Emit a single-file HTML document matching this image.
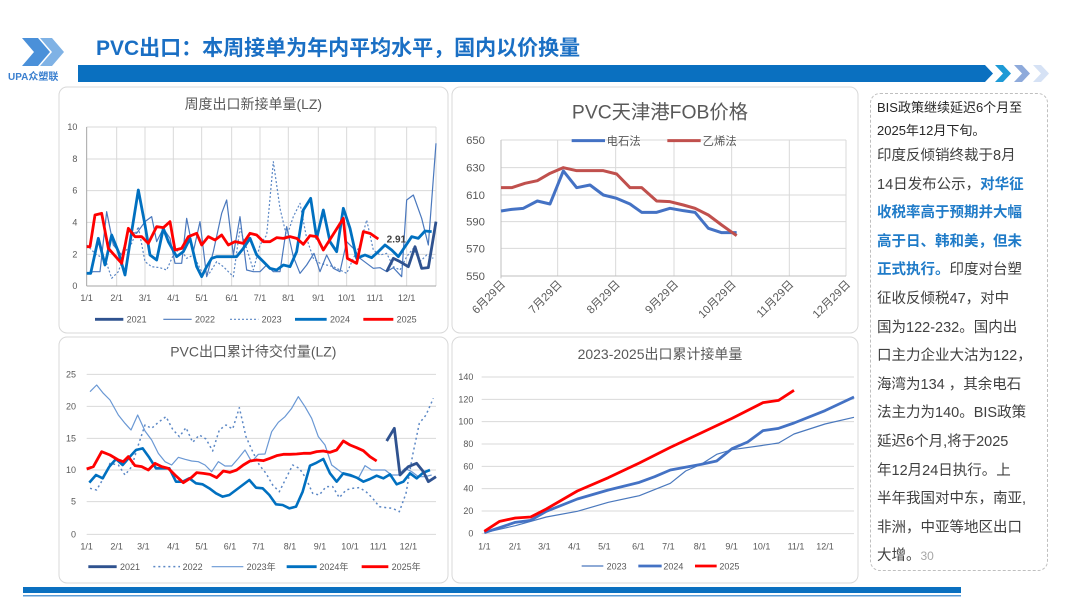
<!DOCTYPE html>
<html><head><meta charset="utf-8">
<style>
html,body{margin:0;padding:0;background:#fff;}
body{width:1080px;height:608px;overflow:hidden;position:relative;font-family:"Liberation Sans","Noto Sans CJK SC",sans-serif;}
.tb{position:absolute;left:870px;top:93px;width:176px;height:476px;border:1px dashed #bfbfbf;border-radius:10px;}
.tx{position:absolute;left:877px;top:96px;width:172px;font-size:14.5px;line-height:28.6px;color:#404040;font-family:"Liberation Sans","Noto Sans CJK SC",sans-serif;}
.tx .s{font-size:13px;line-height:23px;color:#262626;}
.tx b{color:#1f7bc8;font-weight:bold;}
</style></head><body>
<div class="tb"></div>
<div class="tx"><div class="s">BIS政策继续延迟6个月至<br>2025年12月下旬。</div>印度反倾销终裁于8月<br>14日发布公示，<b>对华征<br>收税率高于预期并大幅<br>高于日、韩和美，但未<br>正式执行。</b>印度对台塑<br>征收反倾税47，对中<br>国为122-232。国内出<br>口主力企业大沽为122，<br>海湾为134 ，其余电石<br>法主力为140。BIS政策<br>延迟6个月,将于2025<br>年12月24日执行。上<br>半年我国对中东，南亚,<br>非洲，中亚等地区出口<br>大增。<span style="font-size:12px;color:#a6a6a6">30</span></div>
<svg width="1080" height="608" style="position:absolute;left:0;top:0" xmlns="http://www.w3.org/2000/svg" font-family="Liberation Sans, Noto Sans CJK SC, sans-serif">
<!-- header -->
<polygon points="22,38 38,38 50,52 38,66 22,66 34,52" fill="#4a90d9"/>
<polygon points="40,38 52,38 64,52 52,66 40,66 52,52" fill="#7fb2e5"/>
<text x="8" y="80" font-size="10" font-weight="bold" fill="#3a7fcf">UPA众塑联</text>
<text x="96" y="55" font-size="21" font-weight="bold" fill="#1a6fc4" font-family="Liberation Sans, Noto Sans CJK SC, sans-serif">PVC出口：本周接单为年内平均水平，国内以价换量</text>
<polygon points="78,65 985,65 993,73.5 985,82 78,82" fill="#0a70c0"/>
<polygon points="995,65 1003,65 1011,73.5 1003,82 995,82 1003,73.5" fill="#1e9ad6"/>
<polygon points="1014,65 1022,65 1030,73.5 1022,82 1014,82 1022,73.5" fill="#8eaadb"/>
<polygon points="1033,65 1041,65 1049,73.5 1041,82 1033,82 1041,73.5" fill="#d6e2f5"/>
<!-- footer -->
<rect x="23" y="587" width="938" height="6" fill="#0a70c0"/>
<rect x="23" y="595" width="938" height="1.5" fill="#5b9bd5"/>
<!-- panels -->
<rect x="59" y="87" width="389" height="246" rx="8" fill="#fff" stroke="#d9d9d9"/>
<rect x="452" y="87" width="406" height="246" rx="8" fill="#fff" stroke="#d9d9d9"/>
<rect x="59" y="337" width="389" height="246" rx="8" fill="#fff" stroke="#d9d9d9"/>
<rect x="452" y="337" width="406" height="246" rx="8" fill="#fff" stroke="#d9d9d9"/>

<!-- chart 1 -->
<g transform="translate(60 85) scale(0.33333)" font-size="27" fill="#595959">
<text x="580" y="72" font-size="42" text-anchor="middle" fill="#595959">周度出口新接单量(LZ)</text>
<g stroke="#d9d9d9" stroke-width="1" vector-effect="non-scaling-stroke">
<line x1="80" y1="126" x2="1128" y2="126" vector-effect="non-scaling-stroke"/><line x1="80" y1="222" x2="1128" y2="222" vector-effect="non-scaling-stroke"/><line x1="80" y1="317" x2="1128" y2="317" vector-effect="non-scaling-stroke"/><line x1="80" y1="412" x2="1128" y2="412" vector-effect="non-scaling-stroke"/><line x1="80" y1="508" x2="1128" y2="508" vector-effect="non-scaling-stroke"/>
<line x1="170" y1="126" x2="170" y2="603" vector-effect="non-scaling-stroke"/><line x1="255" y1="126" x2="255" y2="603" vector-effect="non-scaling-stroke"/><line x1="340" y1="126" x2="340" y2="603" vector-effect="non-scaling-stroke"/><line x1="425" y1="126" x2="425" y2="603" vector-effect="non-scaling-stroke"/><line x1="515" y1="126" x2="515" y2="603" vector-effect="non-scaling-stroke"/><line x1="600" y1="126" x2="600" y2="603" vector-effect="non-scaling-stroke"/><line x1="685" y1="126" x2="685" y2="603" vector-effect="non-scaling-stroke"/><line x1="775" y1="126" x2="775" y2="603" vector-effect="non-scaling-stroke"/><line x1="860" y1="126" x2="860" y2="603" vector-effect="non-scaling-stroke"/><line x1="945" y1="126" x2="945" y2="603" vector-effect="non-scaling-stroke"/><line x1="1040" y1="126" x2="1040" y2="603" vector-effect="non-scaling-stroke"/><line x1="1128" y1="126" x2="1128" y2="603" vector-effect="non-scaling-stroke"/>
</g>
<line x1="80" y1="126" x2="80" y2="603" stroke="#a6a6a6" vector-effect="non-scaling-stroke"/>
<line x1="80" y1="603" x2="1128" y2="603" stroke="#a6a6a6" vector-effect="non-scaling-stroke"/>
<g text-anchor="end"><text x="52" y="135">10</text><text x="52" y="231">8</text><text x="52" y="326">6</text><text x="52" y="421">4</text><text x="52" y="517">2</text><text x="52" y="612">0</text></g>
<g text-anchor="middle"><text x="80" y="648">1/1</text><text x="170" y="648">2/1</text><text x="255" y="648">3/1</text><text x="340" y="648">4/1</text><text x="425" y="648">5/1</text><text x="515" y="648">6/1</text><text x="600" y="648">7/1</text><text x="685" y="648">8/1</text><text x="775" y="648">9/1</text><text x="860" y="648">10/1</text><text x="945" y="648">11/1</text><text x="1040" y="648">12/1</text></g>
<g fill="none" stroke-linejoin="round">
<polyline stroke="#5b87c5" stroke-width="1.2" vector-effect="non-scaling-stroke" stroke-dasharray="2,2" points="80,480 110,510 135,520 155,580 175,560 195,500 215,475 235,425 255,530 275,545 300,548 320,555 340,510 360,490 380,520 400,510 425,560 445,570 470,530 490,545 520,575 540,430 560,490 580,555 600,480 620,450 640,230 660,370 680,455 700,395 720,355 740,460 760,520 780,535 800,540 820,545 840,555 860,565 880,520 900,480 920,405 940,495 960,510 980,505 1000,545 1020,555 1040,515 1060,490 1080,530 1100,510 1120,520"/>
<polyline stroke="#4a78bd" stroke-width="1.2" vector-effect="non-scaling-stroke" points="80,565 100,560 120,560 140,380 160,480 185,510 205,440 230,445 255,410 275,395 290,470 310,430 330,460 345,535 365,535 380,400 400,500 420,410 440,575 460,500 485,385 500,345 520,510 540,395 560,555 580,560 600,560 620,540 640,560 660,560 680,425 700,515 720,565 740,540 762,505 780,560 800,510 820,550 840,560 860,470 880,490 900,520 940,550 960,548 980,560 1000,548 1025,575 1040,345 1060,330 1085,400 1105,480 1128,175"/>
<polyline stroke="#0070c0" stroke-width="2.8" vector-effect="non-scaling-stroke" points="80,565 92,565 115,460 135,540 155,450 175,500 195,570 215,440 235,315 255,420 270,510 290,525 310,430 325,470 350,515 370,500 390,460 410,545 425,575 440,545 455,520 470,515 490,515 510,515 530,515 550,490 570,460 590,510 610,530 630,550 650,555 670,540 690,545 710,500 730,375 752,340 770,460 790,375 810,470 830,500 850,370 870,430 890,520 915,510 935,518 955,500 975,480 995,495 1015,515 1035,485 1055,455 1075,460 1095,438 1115,440"/>
<polyline stroke="#2f528f" stroke-width="2.8" vector-effect="non-scaling-stroke" points="980,560 1000,520 1020,530 1045,545 1065,485 1085,550 1105,548 1128,410"/>
<polyline stroke="#ff0000" stroke-width="2.8" vector-effect="non-scaling-stroke" points="80,485 90,485 105,390 125,385 145,490 185,535 205,430 225,455 245,455 265,475 290,425 310,428 330,410 345,495 365,490 385,455 410,445 425,480 445,455 465,465 485,450 505,480 525,470 550,475 570,445 590,450 610,470 630,470 650,458 670,460 690,455 710,460 730,478 750,452 770,455 790,495 850,400 862,520 890,535 910,440 930,445 955,462"/>
</g>
<text x="980" y="472" font-size="30" font-weight="bold" fill="#404040">2.91</text>
<g fill="none">
<line x1="105" y1="703" x2="190" y2="703" stroke="#2f528f" stroke-width="2.8" vector-effect="non-scaling-stroke"/>
<line x1="310" y1="703" x2="395" y2="703" stroke="#4a78bd" stroke-width="1.2" vector-effect="non-scaling-stroke"/>
<line x1="510" y1="703" x2="595" y2="703" stroke="#5b87c5" stroke-width="1.2" stroke-dasharray="2,2" vector-effect="non-scaling-stroke"/>
<line x1="705" y1="703" x2="800" y2="703" stroke="#0070c0" stroke-width="2.8" vector-effect="non-scaling-stroke"/>
<line x1="910" y1="703" x2="1000" y2="703" stroke="#ff0000" stroke-width="2.8" vector-effect="non-scaling-stroke"/>
</g>
<text x="200" y="713">2021</text><text x="405" y="713">2022</text><text x="605" y="713">2023</text><text x="810" y="713">2024</text><text x="1010" y="713">2025</text>
</g>

<!-- chart 2 -->
<g transform="translate(450 85) scale(0.33333)" font-size="34" fill="#595959">
<text x="630" y="100" font-size="58" text-anchor="middle" fill="#595959">PVC天津港FOB价格</text>
<g stroke="#d9d9d9" fill="none">
<line x1="153" y1="165" x2="1188" y2="165" vector-effect="non-scaling-stroke"/><line x1="153" y1="248" x2="1188" y2="248" vector-effect="non-scaling-stroke"/><line x1="153" y1="330" x2="1188" y2="330" vector-effect="non-scaling-stroke"/><line x1="153" y1="410" x2="1188" y2="410" vector-effect="non-scaling-stroke"/><line x1="153" y1="490" x2="1188" y2="490" vector-effect="non-scaling-stroke"/>
<line x1="323" y1="165" x2="323" y2="573" vector-effect="non-scaling-stroke"/><line x1="497" y1="165" x2="497" y2="573" vector-effect="non-scaling-stroke"/><line x1="672" y1="165" x2="672" y2="573" vector-effect="non-scaling-stroke"/><line x1="845" y1="165" x2="845" y2="573" vector-effect="non-scaling-stroke"/><line x1="1018" y1="165" x2="1018" y2="573" vector-effect="non-scaling-stroke"/><line x1="1188" y1="165" x2="1188" y2="573" vector-effect="non-scaling-stroke"/>
</g>
<line x1="153" y1="165" x2="153" y2="580" stroke="#bfbfbf" vector-effect="non-scaling-stroke"/>
<line x1="153" y1="573" x2="1188" y2="573" stroke="#bfbfbf" vector-effect="non-scaling-stroke"/>
<g text-anchor="end"><text x="105" y="177">650</text><text x="105" y="260">630</text><text x="105" y="342">610</text><text x="105" y="422">590</text><text x="105" y="502">570</text><text x="105" y="585">550</text></g>
<g text-anchor="end">
<text transform="translate(168 600) rotate(-45)">6月29日</text>
<text transform="translate(338 600) rotate(-45)">7月29日</text>
<text transform="translate(512 600) rotate(-45)">8月29日</text>
<text transform="translate(687 600) rotate(-45)">9月29日</text>
<text transform="translate(860 600) rotate(-45)">10月29日</text>
<text transform="translate(1033 600) rotate(-45)">11月29日</text>
<text transform="translate(1203 600) rotate(-45)">12月29日</text>
</g>
<line x1="365" y1="167" x2="465" y2="167" stroke="#4472c4" stroke-width="3" vector-effect="non-scaling-stroke"/>
<text x="470" y="180">电石法</text>
<line x1="652" y1="167" x2="752" y2="167" stroke="#c0504d" stroke-width="3" vector-effect="non-scaling-stroke"/>
<text x="758" y="180">乙烯法</text>
<g fill="none" stroke-width="3" stroke-linejoin="round">
<polyline stroke="#4472c4" vector-effect="non-scaling-stroke" points="153,378 185,373 220,370 262,348 300,357 340,258 380,308 420,300 460,330 500,340 540,357 575,382 620,382 660,370 700,377 735,382 775,430 815,443 860,443"/>
<polyline stroke="#c0504d" vector-effect="non-scaling-stroke" points="153,308 185,308 225,295 262,287 300,265 340,248 380,257 420,257 460,257 500,267 540,308 575,308 620,348 660,350 700,360 735,370 775,390 815,420 860,452"/>
</g>
</g>

<!-- chart 3 -->
<g transform="translate(60 335) scale(0.33333)" font-size="27" fill="#595959">
<text x="580" y="65" font-size="42" text-anchor="middle" fill="#595959">PVC出口累计待交付量(LZ)</text>
<g stroke="#d9d9d9" fill="none">
<line x1="80" y1="118" x2="1128" y2="118" vector-effect="non-scaling-stroke"/><line x1="80" y1="214" x2="1128" y2="214" vector-effect="non-scaling-stroke"/><line x1="80" y1="310" x2="1128" y2="310" vector-effect="non-scaling-stroke"/><line x1="80" y1="405" x2="1128" y2="405" vector-effect="non-scaling-stroke"/><line x1="80" y1="500" x2="1128" y2="500" vector-effect="non-scaling-stroke"/><line x1="80" y1="598" x2="1128" y2="598" vector-effect="non-scaling-stroke"/>
</g>
<g text-anchor="end"><text x="48" y="127">25</text><text x="48" y="223">20</text><text x="48" y="319">15</text><text x="48" y="414">10</text><text x="48" y="509">5</text><text x="48" y="607">0</text></g>
<g text-anchor="middle"><text x="80" y="644">1/1</text><text x="170" y="644">2/1</text><text x="250" y="644">3/1</text><text x="340" y="644">4/1</text><text x="425" y="644">5/1</text><text x="510" y="644">6/1</text><text x="595" y="644">7/1</text><text x="690" y="644">8/1</text><text x="780" y="644">9/1</text><text x="870" y="644">10/1</text><text x="955" y="644">11/1</text><text x="1045" y="644">12/1</text></g>
<g fill="none" stroke-linejoin="round">
<polyline stroke="#5b87c5" stroke-width="1.5" stroke-dasharray="2,3" vector-effect="non-scaling-stroke" points="90,460 110,465 130,430 150,385 175,390 195,420 215,395 235,330 255,270 275,280 295,262 318,245 338,283 358,305 378,278 398,322 418,300 438,312 458,348 478,285 498,270 518,282 538,218 558,305 578,350 598,390 618,415 638,450 658,470 678,430 698,390 718,400 738,430 758,475 778,480 798,455 818,455 838,488 858,465 878,460 898,458 918,470 938,490 958,515 978,518 998,520 1018,530 1038,475 1058,360 1078,265 1098,240 1120,190"/>
<polyline stroke="#6a98d4" stroke-width="1.2" vector-effect="non-scaling-stroke" points="90,170 110,150 130,175 150,195 175,240 195,265 213,285 233,240 255,288 275,315 295,355 315,380 335,390 355,367 375,373 395,378 415,380 435,390 455,410 475,380 495,393 515,393 535,370 555,345 575,380 595,358 615,357 635,290 655,262 675,245 695,220 715,185 735,215 755,250 775,305 795,330 815,390 835,405 855,420 875,425 895,430 915,392 935,405 955,405 975,405 995,420 1015,420 1035,400 1055,410 1075,425 1095,425 1115,420"/>
<polyline stroke="#0070c0" stroke-width="2.6" vector-effect="non-scaling-stroke" points="88,443 108,420 128,430 148,395 168,372 188,390 208,367 228,345 248,340 268,368 288,400 308,400 328,400 348,440 368,440 388,430 408,445 428,448 448,460 468,475 488,485 508,480 528,465 548,450 568,435 588,458 608,460 628,480 648,508 668,510 688,520 708,515 728,470 750,392 770,383 790,372 810,415 830,440 850,415 870,420 890,428 910,440 930,432 950,422 970,430 990,418 1010,448 1030,440 1050,415 1070,430 1090,413 1110,405"/>
<polyline stroke="#2f528f" stroke-width="2.8" vector-effect="non-scaling-stroke" points="980,318 1003,280 1020,420 1045,395 1070,385 1090,410 1105,440 1128,425"/>
<polyline stroke="#ff0000" stroke-width="2.8" vector-effect="non-scaling-stroke" points="80,402 100,395 125,350 150,360 175,375 190,380 205,365 225,392 245,395 265,405 285,385 305,395 325,400 345,420 370,443 395,427 410,413 430,415 450,418 470,428 490,408 510,412 530,405 550,390 570,378 590,375 610,377 630,370 650,362 670,358 690,358 710,357 730,355 750,355 770,350 790,348 810,352 830,345 850,318 870,330 890,338 910,347 930,365 950,378"/>
</g>
<line x1="85" y1="695" x2="170" y2="695" stroke="#2f528f" stroke-width="2.8" vector-effect="non-scaling-stroke"/>
<line x1="280" y1="695" x2="360" y2="695" stroke="#5b87c5" stroke-width="1.5" stroke-dasharray="2,3" vector-effect="non-scaling-stroke"/>
<line x1="455" y1="695" x2="550" y2="695" stroke="#6a98d4" stroke-width="1.2" vector-effect="non-scaling-stroke"/>
<line x1="680" y1="695" x2="770" y2="695" stroke="#0070c0" stroke-width="2.8" vector-effect="non-scaling-stroke"/>
<line x1="905" y1="695" x2="985" y2="695" stroke="#ff0000" stroke-width="2.8" vector-effect="non-scaling-stroke"/>
<text x="180" y="705">2021</text><text x="368" y="705">2022</text><text x="560" y="705">2023年</text><text x="778" y="705">2024年</text><text x="995" y="705">2025年</text>
</g>

<!-- chart 4 -->
<g transform="translate(450 335) scale(0.33333)" font-size="27" fill="#595959">
<text x="630" y="72" font-size="42" text-anchor="middle" fill="#595959">2023-2025出口累计接单量</text>
<g stroke="#d9d9d9" fill="none">
<line x1="95" y1="126" x2="1212" y2="126" vector-effect="non-scaling-stroke"/><line x1="95" y1="193" x2="1212" y2="193" vector-effect="non-scaling-stroke"/><line x1="95" y1="260" x2="1212" y2="260" vector-effect="non-scaling-stroke"/><line x1="95" y1="327" x2="1212" y2="327" vector-effect="non-scaling-stroke"/><line x1="95" y1="394" x2="1212" y2="394" vector-effect="non-scaling-stroke"/><line x1="95" y1="461" x2="1212" y2="461" vector-effect="non-scaling-stroke"/><line x1="95" y1="528" x2="1212" y2="528" vector-effect="non-scaling-stroke"/><line x1="95" y1="596" x2="1212" y2="596" vector-effect="non-scaling-stroke"/>
</g>
<g text-anchor="end"><text x="70" y="135">140</text><text x="70" y="202">120</text><text x="70" y="269">100</text><text x="70" y="336">80</text><text x="70" y="403">60</text><text x="70" y="470">40</text><text x="70" y="537">20</text><text x="70" y="605">0</text></g>
<g text-anchor="middle"><text x="103" y="644">1/1</text><text x="195" y="644">2/1</text><text x="283" y="644">3/1</text><text x="373" y="644">4/1</text><text x="463" y="644">5/1</text><text x="565" y="644">6/1</text><text x="655" y="644">7/1</text><text x="750" y="644">8/1</text><text x="845" y="644">9/1</text><text x="935" y="644">10/1</text><text x="1038" y="644">11/1</text><text x="1125" y="644">12/1</text></g>
<g fill="none" stroke-linejoin="round">
<polyline stroke="#4a78bd" stroke-width="1.2" vector-effect="non-scaling-stroke" points="103,593 196,572 289,546 382,529 475,502 568,482 661,445 707,408 753,388 800,358 846,344 939,331 986,324 1032,297 1125,267 1212,247"/>
<polyline stroke="#4472c4" stroke-width="2.8" vector-effect="non-scaling-stroke" points="103,593 196,562 242,556 289,529 382,492 475,465 568,442 614,425 661,405 753,388 800,378 846,341 893,321 939,287 986,280 1032,264 1125,227 1212,186"/>
<polyline stroke="#ff0000" stroke-width="2.8" vector-effect="non-scaling-stroke" points="103,589 149,559 196,549 242,546 289,522 382,468 475,428 568,384 661,337 753,294 846,250 939,203 986,196 1032,166"/>
</g>
<line x1="395" y1="693" x2="460" y2="693" stroke="#4a78bd" stroke-width="1.2" vector-effect="non-scaling-stroke"/>
<line x1="565" y1="693" x2="635" y2="693" stroke="#4472c4" stroke-width="2.8" vector-effect="non-scaling-stroke"/>
<line x1="735" y1="693" x2="800" y2="693" stroke="#ff0000" stroke-width="2.8" vector-effect="non-scaling-stroke"/>
<text x="470" y="703">2023</text><text x="640" y="703">2024</text><text x="808" y="703">2025</text>
</g>
</svg>
</body></html>
